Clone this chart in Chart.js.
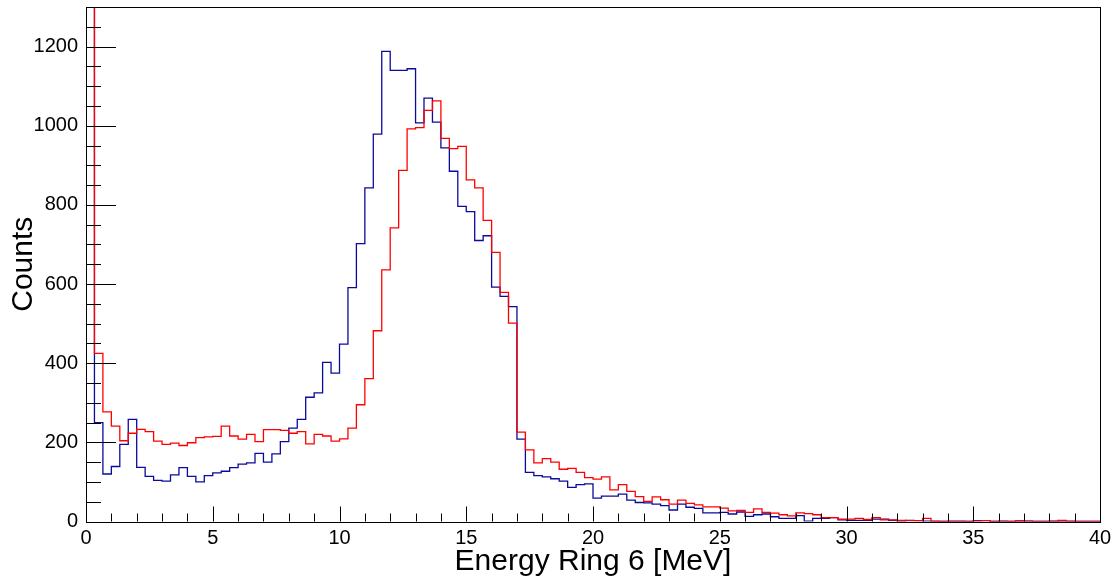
<!doctype html>
<html lang="en">
<head>
  <meta charset="utf-8">
  <title>Energy Ring 6</title>
  <script src="https://cdn.jsdelivr.net/npm/chart.js"></script>
  <style>
    html, body { margin: 0; padding: 0; background: #fff; }
  </style>
</head>
<body>
  <canvas id="myChart" width="1115" height="581"></canvas>
  <script>
    // 120 bins from 0 to 40 MeV
    const binWidth = 1 / 3;

    const blueCounts = [
      1800, 250, 120, 139, 195, 258, 137, 114, 104, 102,
      118, 136, 114, 100, 116, 123, 127, 136, 145, 148,
      172, 150, 171, 202, 236, 258, 314, 325, 402, 375,
      448, 591, 702, 843, 979, 1188, 1140, 1140, 1144, 1007,
      1070, 1009, 944, 885, 796, 783, 710, 722, 592, 569,
      543, 208, 124, 116, 113, 108, 102, 86, 93, 95,
      59, 64, 64, 69, 54, 48, 47, 44, 40, 29,
      44, 36, 33, 22, 22, 23, 19, 24, 13, 17,
      19, 12, 8, 8, 15, 1, 8, 8, 10, 4,
      3, 3, 3, 6, 6, 3, 1, 3, 2, 1,
      0, 0, 0, 0, 0, 2, 2, 0, 1, 0,
      0, 1, 0, 0, 1, 0, 0, 0, 0, 0
    ];

    const redCounts = [
      2600, 425, 277, 241, 204, 223, 233, 227, 203, 195,
      198, 192, 199, 212, 214, 215, 241, 216, 208, 220,
      202, 232, 232, 230, 223, 227, 196, 220, 216, 203,
      209, 236, 295, 361, 482, 636, 742, 887, 992, 995,
      1039, 1063, 968, 942, 948, 863, 843, 761, 680, 579,
      501, 226, 181, 148, 159, 150, 132, 134, 124, 111,
      107, 113, 80, 93, 76, 63, 51, 62, 55, 44,
      54, 46, 42, 37, 37, 34, 27, 28, 23, 32,
      23, 21, 17, 14, 22, 20, 17, 10, 10, 6,
      6, 8, 5, 10, 4, 4, 3, 2, 2, 8,
      1, 0, 1, 1, 0, 1, 2, 0, 0, 0,
      2, 1, 0, 0, 0, 3, 1, 0, 0, 0
    ];

    const xTickLabels = [0, 5, 10, 15, 20, 25, 30, 35, 40];
    const yTickLabels = [0, 200, 400, 600, 800, 1000, 1200];

    // histogram outline: a point on each lower bin edge, plus one closing point
    function toSteps(counts) {
      const pts = counts.map((c, i) => ({ x: i * binWidth, y: c }));
      pts.push({ x: counts.length * binWidth, y: counts[counts.length - 1] });
      return pts;
    }

    const fontFamily = '"Liberation Sans", Arial, Helvetica, sans-serif';

    // ROOT style frame with ticks drawn inside
    const rootFrame = {
      id: 'rootFrame',
      afterDatasetsDraw(chart) {
        const { ctx, chartArea: a, scales: { x, y } } = chart;
        ctx.save();
        ctx.strokeStyle = '#000';
        ctx.lineWidth = 1;
        ctx.beginPath();
        for (let v = 0; v <= 40; v++) {
          const px = Math.round(x.getPixelForValue(v)) + 0.5;
          const len = v % 5 === 0 ? 15 : 8;
          ctx.moveTo(px, a.bottom);
          ctx.lineTo(px, a.bottom - len);
        }
        for (let v = 0; v <= 1300; v += 50) {
          const py = Math.round(y.getPixelForValue(v)) + 0.5;
          const len = v % 200 === 0 ? 30 : 15;
          ctx.moveTo(a.left, py);
          ctx.lineTo(a.left + len, py);
        }
        ctx.stroke();
        ctx.strokeRect(Math.round(a.left) + 0.5, Math.round(a.top) + 0.5,
          Math.round(a.right - a.left), Math.round(a.bottom - a.top));
        ctx.restore();
      }
    };

    new Chart(document.getElementById('myChart'), {
      type: 'line',
      data: {
        datasets: [{
          label: 'red',
          data: toSteps(redCounts),
          borderColor: '#ff0000',
          borderWidth: 1.3,
          stepped: true,
          pointRadius: 0,
          fill: false
        }, {
          label: 'blue',
          data: toSteps(blueCounts),
          borderColor: '#0a0a9c',
          borderWidth: 1.3,
          stepped: true,
          pointRadius: 0,
          fill: false
        }]
      },
      options: {
        responsive: false,
        animation: false,
        events: [],
        layout: { padding: { top: 7, right: 15, left: 0, bottom: 0 } },
        plugins: {
          legend: { display: false },
          tooltip: { enabled: false }
        },
        scales: {
          x: {
            type: 'linear',
            min: 0,
            max: 40,
            afterBuildTicks: (s) => { s.ticks = xTickLabels.map(v => ({ value: v })); },
            afterFit: (s) => { s.height = 59.5; s.paddingLeft = 0; s.paddingRight = 0; },
            grid: { display: false, drawTicks: false },
            border: { display: false },
            ticks: {
              padding: 5,
              maxRotation: 0,
              autoSkip: false,
              color: '#000',
              callback: (v) => String(v),
              font: { family: fontFamily, size: 20 }
            },
            title: {
              display: true,
              text: 'Energy Ring 6 [MeV]',
              color: '#000',
              padding: { top: 0, bottom: 1 },
              font: { family: fontFamily, size: 30 }
            }
          },
          y: {
            min: 0,
            max: 1300,
            afterBuildTicks: (s) => { s.ticks = yTickLabels.map(v => ({ value: v })); },
            afterFit: (s) => { s.width = 86; s.paddingTop = 0; s.paddingBottom = 0; },
            grid: { display: false, drawTicks: false },
            border: { display: false },
            ticks: {
              padding: 8,
              color: '#000',
              callback: (v) => String(v),
              font: { family: fontFamily, size: 20 }
            },
            title: {
              display: true,
              text: 'Counts',
              color: '#000',
              padding: { top: 6, bottom: 0 },
              font: { family: fontFamily, size: 30 }
            }
          }
        }
      },
      plugins: [rootFrame]
    });
  </script>
</body>
</html>
